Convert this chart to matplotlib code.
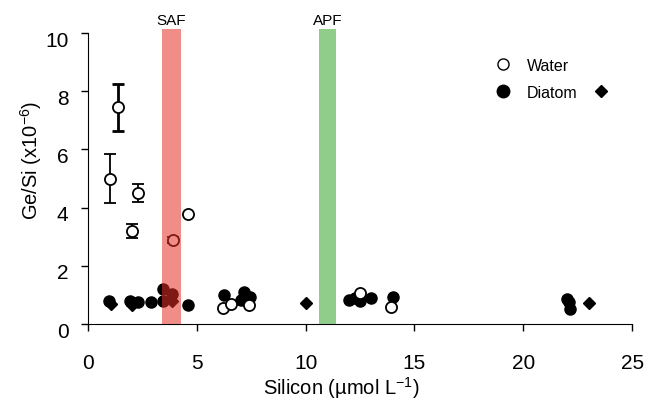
"""Ge/Si ratio against silicon for water and diatom samples across fronts."""

import matplotlib

matplotlib.use("Agg")
import matplotlib.pyplot as plt
from matplotlib.lines import Line2D
from matplotlib.transforms import ScaledTranslation

plt.rcParams["font.family"] = ["Liberation Sans", "DejaVu Sans"]
plt.rcParams["mathtext.fontset"] = "custom"
plt.rcParams["mathtext.rm"] = "Liberation Sans"
plt.rcParams["mathtext.it"] = "Liberation Sans"

# water samples with error bars
water_si = [1.0, 1.4, 2.0, 2.3, 3.9, 4.6, 6.2, 6.55, 7.4, 12.5, 13.9]
water_gesi = [5.0, 7.45, 3.2, 4.5, 2.9, 3.78, 0.55, 0.7, 0.66, 1.08, 0.58]
water_err = [0.85, 0.8, 0.25, 0.3, 0.1, 0.0, 0.0, 0.0, 0.0, 0.0, 0.0]

# diatom samples (circles)
diatom_si = [0.95, 1.95, 2.3, 2.9, 3.43, 3.43, 3.85, 4.6, 6.27, 7.03, 7.18, 7.44,
             12.0, 12.25, 12.5, 13.0, 14.0, 22.0, 22.1, 22.15]
diatom_gesi = [0.8, 0.8, 0.75, 0.75, 1.22, 0.8, 1.03, 0.66, 1.0, 0.82, 1.1, 0.94,
               0.82, 0.88, 0.78, 0.89, 0.92, 0.86, 0.74, 0.52]

# diatom samples (diamonds)
diamond_si = [1.05, 2.0, 3.85, 10.0, 23.0]
diamond_gesi = [0.7, 0.65, 0.8, 0.72, 0.72]

# frontal zones
fronts = {"SAF": (3.42, 4.26, (0.90, 0.19, 0.14)), "APF": (10.6, 11.4, (0.21, 0.64, 0.17))}


def main():
    fig = plt.figure(figsize=(6.47, 4.06), dpi=100)
    ax = fig.add_axes([0.136, 0.1995, 0.841, 0.7165])

    ax.plot(diatom_si, diatom_gesi, "o", color="black", markersize=8, zorder=3)
    ax.plot(diamond_si, diamond_gesi, "D", color="black", markersize=6, zorder=3)
    for x, y, err in zip(water_si, water_gesi, water_err):
        lw = 2 if y > 7 else 1.3
        if err > 0:
            ax.errorbar(x, y, yerr=err, fmt="none", ecolor="black", elinewidth=lw,
                        capsize=4.5, capthick=lw, zorder=3)
    ax.plot(water_si, water_gesi, "o", markerfacecolor="white", markeredgecolor="black",
            markeredgewidth=1.3, markersize=8, zorder=4)

    for name, (x0, x1, color) in fronts.items():
        ax.fill_between([x0, x1], 0, 10.15, color=color, alpha=0.55, lw=0, zorder=5,
                        clip_on=False)
        ax.text((x0 + x1) / 2, 10.2, name, ha="center", va="bottom", fontsize=11)

    ax.set_xlim(0, 25)
    ax.set_ylim(0, 10)
    ax.set_xticks(range(0, 26, 5))
    ax.set_yticks(range(0, 11, 2))
    ax.tick_params(direction="out", length=5, labelsize=15, width=1)
    ax.tick_params(axis="x", pad=16)
    ax.tick_params(axis="y", pad=9)
    shift = ScaledTranslation(0, -0.05, fig.dpi_scale_trans)
    for label in ax.get_yticklabels():
        label.set_transform(label.get_transform() + shift)
    for side in ("top", "right"):
        ax.spines[side].set_visible(False)
    ax.set_xlabel("Silicon (\u00b5mol L$^{-1}$)", fontsize=14.5)
    ax.set_ylabel("Ge/Si (x10$^{-6}$)", fontsize=14.5)
    ax.xaxis.set_label_coords(0.465, -0.172)
    ax.yaxis.set_label_coords(-0.08, 0.567)

    water_h = Line2D([], [], marker="o", ls="none", markerfacecolor="white",
                     markeredgecolor="black", markersize=8)
    diatom_h = Line2D([], [], marker="o", ls="none", color="black", markersize=9)
    leg = ax.legend([water_h, diatom_h], ["Water", "Diatom"], loc="upper left",
                    bbox_to_anchor=(0.715, 0.965), frameon=False, fontsize=11.5,
                    handletextpad=0.7, labelspacing=0.75, handlelength=1.5)
    ax.add_artist(leg)
    diamond_h = Line2D([], [], marker="D", ls="none", color="black", markersize=6)
    ax.legend([diamond_h], [""], loc="upper left", bbox_to_anchor=(0.895, 0.865),
              frameon=False, handletextpad=0)

    fig.savefig("out.png", dpi=100)


if __name__ == "__main__":
    main()
